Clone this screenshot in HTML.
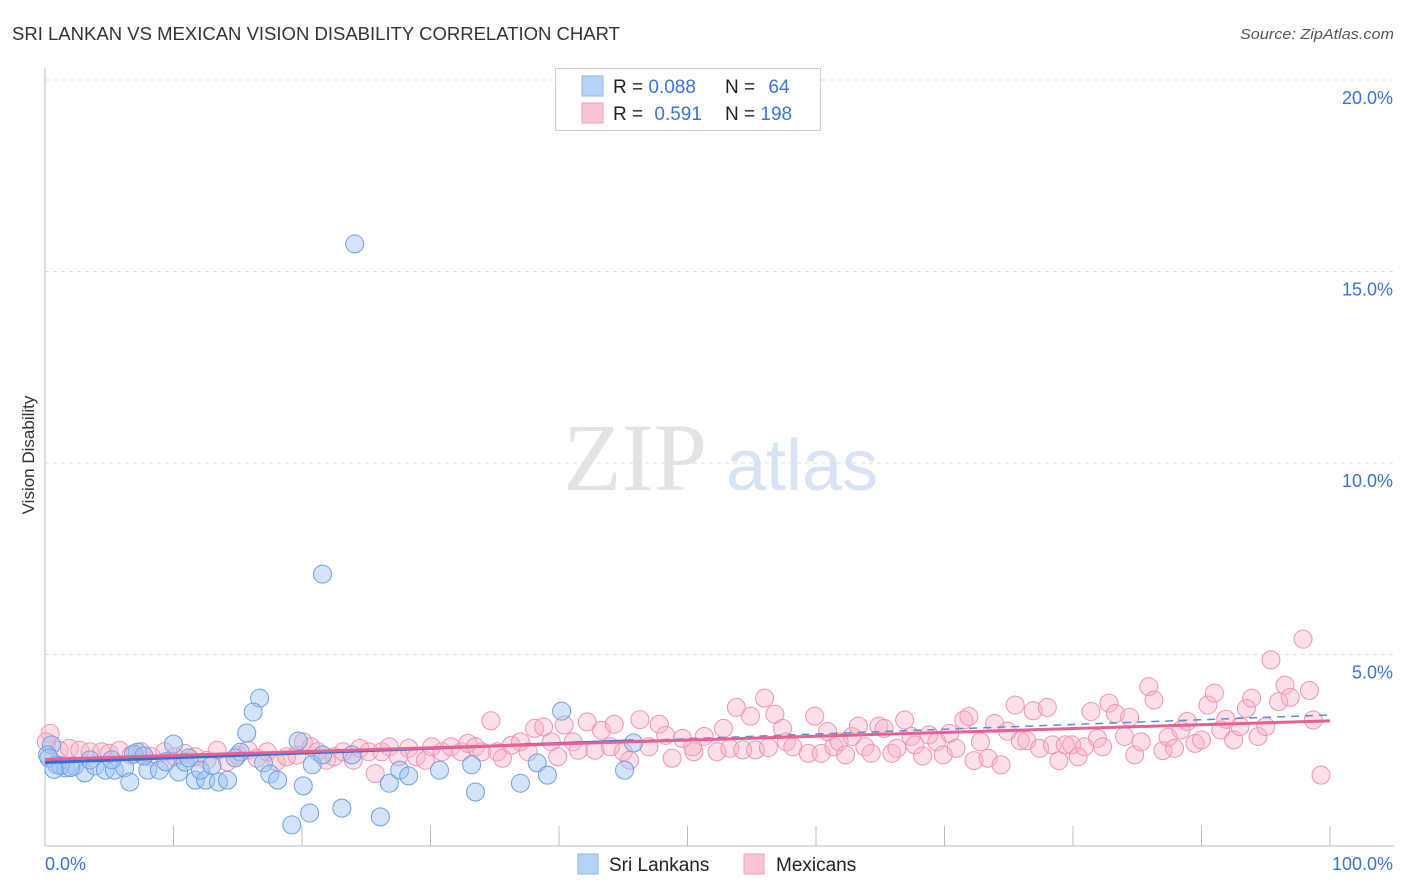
<!DOCTYPE html>
<html><head><meta charset="utf-8"><style>
body{margin:0;background:#fff;font-family:"Liberation Sans",sans-serif;}
svg{display:block}
</style></head><body>
<svg id="chart" width="1406" height="892" xmlns="http://www.w3.org/2000/svg">
<text x="12" y="40" font-size="18" fill="#333" textLength="608" lengthAdjust="spacingAndGlyphs">SRI LANKAN VS MEXICAN VISION DISABILITY CORRELATION CHART</text>
<text x="1394" y="39" font-size="15" fill="#555" font-style="italic" text-anchor="end" textLength="154" lengthAdjust="spacingAndGlyphs">Source: ZipAtlas.com</text>
<text x="34" y="455" font-size="17" fill="#333" text-anchor="middle" transform="rotate(-90 34 455)">Vision Disability</text>
<g>
<text x="635" y="490" font-size="96" fill="#e3e3e3" font-family="Liberation Serif, serif" text-anchor="middle">ZIP</text>
<text x="802" y="490" font-size="72" fill="#d5e3f5" text-anchor="middle">atlas</text>
</g>
<g id="grid"></g>
<g id="pts"></g>
<g id="lines"></g>
<g>
<rect x="555.5" y="68.5" width="265" height="62" fill="#fff" stroke="#ccc"/>
<rect x="582" y="76" width="21" height="20" fill="#b7d2f7" stroke="#8fb6ea"/>
<rect x="582" y="103" width="21" height="20" fill="#f9c5d4" stroke="#f0a0b8"/>
<text x="613" y="93" font-size="19" fill="#222">R = <tspan fill="#3b73d0">0.088</tspan></text>
<text x="725" y="93" font-size="19" fill="#222">N = <tspan fill="#3b73d0" dx="8">64</tspan></text>
<text x="613" y="120" font-size="19" fill="#222">R = <tspan fill="#3b73d0" dx="6">0.591</tspan></text>
<text x="725" y="120" font-size="19" fill="#222">N = <tspan fill="#3b73d0">198</tspan></text>
</g>
<g>
<rect x="578" y="854" width="20" height="20" fill="#b7d2f7" stroke="#8fb6ea"/>
<text x="609" y="871" font-size="19" fill="#222">Sri Lankans</text>
<rect x="744" y="854" width="20" height="20" fill="#f9c5d4" stroke="#f0a0b8"/>
<text x="776" y="871" font-size="19" fill="#222">Mexicans</text>
</g>
</svg>
<script>
const yTicks=[5,10,15,20];
const yTickLabels=["5.0%","10.0%","15.0%","20.0%"];
const xEndLabels=["0.0%","100.0%"];
const blueX=[24.1,21.6,16.7,16.2,15.7,40.2,10.0,19.7,15.2,7.2,0.5,0.2,0.9,1.6,2.3,3.1,3.9,4.7,5.4,6.2,6.6,8.0,8.9,10.4,10.9,11.7,12.5,12.1,13.5,14.2,17.0,17.5,18.1,20.1,20.8,21.6,23.9,19.2,20.6,23.1,26.1,26.8,27.6,28.3,30.7,33.2,33.5,37.0,38.3,39.1,45.1,45.8,5.2,3.5,0.3,1.2,2.0,6.9,9.4,11.2,13.0,14.8,7.7,0.7];
const blueY=[15.72,7.10,3.86,3.50,2.95,3.52,2.66,2.74,2.45,2.45,2.64,2.38,2.12,2.04,2.09,1.91,2.09,1.98,1.98,2.04,1.67,1.98,1.98,1.93,2.19,1.72,1.72,1.98,1.67,1.72,2.17,1.88,1.72,1.57,2.12,2.38,2.38,0.55,0.86,0.99,0.76,1.64,1.98,1.83,1.98,2.12,1.41,1.64,2.17,1.85,1.98,2.69,2.25,2.25,2.3,2.1,2.05,2.4,2.2,2.3,2.1,2.3,2.35,2.0];
const pinkX=[53.8,54.9,56.0,56.8,57.4,52.8,50.5,52.3,53.3,54.3,55.3,56.3,51.3,57.7,58.2,59.4,59.9,60.4,60.9,61.4,61.8,62.3,62.8,63.3,63.8,64.3,64.9,65.3,65.9,66.3,66.9,67.4,67.7,68.3,68.8,69.4,69.9,70.4,70.9,71.5,71.9,72.3,72.8,73.4,73.9,74.4,74.9,75.5,75.9,76.4,76.9,77.4,78.0,78.4,78.9,79.4,79.9,80.4,80.9,81.4,81.9,82.3,82.8,83.3,84.0,84.4,84.8,85.3,85.9,86.3,87.0,87.4,87.9,88.4,88.9,89.5,90.0,90.5,91.0,91.5,91.9,92.5,93.0,93.5,93.9,94.4,95.0,95.4,96.0,96.5,96.9,97.9,98.4,98.7,99.3,
0.4,1.1,1.9,2.7,3.5,4.4,5.0,5.8,6.7,7.5,8.3,9.3,10.1,10.9,11.7,12.6,13.4,14.2,15.0,15.8,16.5,17.3,18.0,18.8,19.6,20.1,20.7,21.2,21.9,22.5,23.2,24.0,24.5,25.2,25.7,26.2,26.8,27.5,28.3,28.9,29.6,30.1,30.9,31.6,32.4,32.9,33.5,34.0,34.7,35.2,35.6,36.3,37.0,37.6,38.1,38.8,39.4,39.9,40.4,41.1,41.5,42.2,42.8,43.3,44.0,44.3,45.0,45.5,46.3,47.0,47.8,48.3,48.8,49.6,50.4,0.1];
const pinkY=[3.62,3.39,3.86,3.44,3.07,3.07,2.46,2.46,2.55,2.51,2.51,2.57,2.86,2.72,2.59,2.42,3.39,2.42,2.99,2.59,2.72,2.38,2.86,3.13,2.59,2.42,3.13,3.07,2.42,2.55,3.29,2.86,2.64,2.35,2.90,2.72,2.38,2.94,2.55,3.29,3.38,2.23,2.72,2.29,3.20,2.12,3.00,3.68,2.75,2.75,3.53,2.55,3.62,2.64,2.23,2.64,2.64,2.33,2.59,3.51,2.81,2.59,3.73,3.46,2.86,3.36,2.38,2.72,4.16,3.81,2.49,2.84,2.55,3.03,3.25,2.68,2.77,3.68,3.99,3.03,3.31,2.77,3.12,3.59,3.86,2.86,3.12,4.86,3.77,4.20,3.88,5.40,4.06,3.29,1.85,
2.94,2.50,2.55,2.50,2.46,2.46,2.42,2.50,2.37,2.46,2.33,2.46,2.33,2.42,2.33,2.24,2.50,2.20,2.37,2.50,2.29,2.46,2.20,2.33,2.37,2.72,2.59,2.46,2.24,2.33,2.46,2.24,2.55,2.46,1.89,2.46,2.59,2.33,2.55,2.33,2.24,2.59,2.46,2.59,2.46,2.68,2.59,2.46,3.27,2.46,2.29,2.63,2.72,2.46,3.07,3.11,2.72,2.33,3.16,2.72,2.50,3.24,2.50,3.02,2.59,3.18,2.46,2.24,3.30,2.59,3.18,2.89,2.29,2.81,2.59,2.72];

const NS="http://www.w3.org/2000/svg";
const X0=45,X1=1330,Y0=846,PXPERPCT=38.3;
const sx=v=>X0+(X1-X0)*v/100;
const sy=v=>Y0-v*PXPERPCT;
function mk(tag,attrs,parent){const e=document.createElementNS(NS,tag);for(const k in attrs)e.setAttribute(k,attrs[k]);parent.appendChild(e);return e;}
const grid=document.getElementById('grid');
yTicks.forEach((t,i)=>{
  const l=mk('line',{x1:X0,x2:1394,y1:sy(t),y2:sy(t),stroke:'#ddd','stroke-dasharray':'4,4'},grid);
  
  
  const tx=mk('text',{x:1393,y:sy(t)+24,'font-size':18,fill:'#3b73d0','text-anchor':'end'},grid);
  tx.textContent=yTickLabels[i];
  
  
});
const ax=mk('line',{x1:X0,x2:X0,y1:68,y2:Y0,stroke:'#bbb'},grid);


const bx=mk('line',{x1:X0,x2:1394,y1:Y0,y2:Y0,stroke:'#bbb'},grid);


for(let i=1;i<=10;i++){const t=mk('line',{x1:sx(i*10),x2:sx(i*10),y1:826,y2:Y0,stroke:'#bbb'},grid);
  
  }
[[X0,xEndLabels[0],'start'],[1393,xEndLabels[1],'end']].forEach(([x,s,a])=>{
  const t=mk('text',{x:x,y:870,'font-size':18,fill:'#3b73d0','text-anchor':a},grid);t.textContent=s;
  
  });
const pts=document.getElementById('pts');
pinkX.forEach((x,i)=>{const c=mk('circle',{cx:sx(x),cy:sy(pinkY[i]),r:9,fill:'rgba(248,175,198,0.4)',stroke:'#ef94b0','stroke-width':1},pts);
  
  });
blueX.forEach((x,i)=>{const c=mk('circle',{cx:sx(x),cy:sy(blueY[i]),r:9,fill:'rgba(160,196,240,0.45)',stroke:'#6c9fe2','stroke-width':1},pts);
  
  });
function fit(xs,ys){const n=xs.length;let mx=0,my=0;xs.forEach((x,i)=>{mx+=x;my+=ys[i];});mx/=n;my/=n;let a=0,b=0;xs.forEach((x,i)=>{a+=(x-mx)*(ys[i]-my);b+=(x-mx)*(x-mx);});const s=a/b;return [my-s*mx,s];}
const lines=document.getElementById('lines');
const bf=fit(blueX,blueY),pf=fit(pinkX,pinkY);
const bmax=Math.max(...blueX);
const l1=mk('line',{x1:sx(0),y1:sy(bf[0]),x2:sx(bmax),y2:sy(bf[0]+bf[1]*bmax),stroke:'#2f6fd6','stroke-width':3},lines);


const l2=mk('line',{x1:sx(bmax),y1:sy(bf[0]+bf[1]*bmax),x2:sx(100),y2:sy(bf[0]+bf[1]*100),stroke:'#5a8fd8','stroke-width':1.5,'stroke-dasharray':'8,6'},lines);


const l3=mk('line',{x1:sx(0),y1:sy(pf[0]),x2:sx(100),y2:sy(pf[0]+pf[1]*100),stroke:'#e8608f','stroke-width':3},lines);


</script>
</body></html>
